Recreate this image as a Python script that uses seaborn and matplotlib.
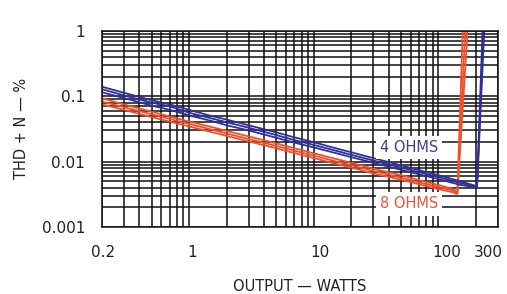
import matplotlib
matplotlib.use("Agg")
import matplotlib.pyplot as plt
import matplotlib.ticker as mticker
import matplotlib.transforms as mtrans
import numpy as np
import pandas as pd
import seaborn as sns

# output power (W) and THD+N (%), three sweeps per load
blue_x = [0.2, 0.3, 0.5, 0.7, 1, 1.5, 2, 3, 5, 7, 10, 15, 20, 30, 50, 70, 100, 150, 204]
blue_a = [0.140, 0.113, 0.087, 0.075, 0.062, 0.050, 0.044, 0.036, 0.028, 0.0235, 0.0198,
          0.0160, 0.0139, 0.0113, 0.0088, 0.0074, 0.0062, 0.0050, 0.0042]
blue_b = [0.128, 0.103, 0.080, 0.070, 0.056, 0.046, 0.040, 0.033, 0.0255, 0.0213, 0.0180,
          0.0147, 0.0127, 0.0104, 0.0081, 0.0069, 0.0058, 0.0047, 0.0041]
blue_c = [0.115, 0.094, 0.072, 0.062, 0.051, 0.042, 0.036, 0.030, 0.0232, 0.0195, 0.0165,
          0.0135, 0.0117, 0.0096, 0.0075, 0.0064, 0.0054, 0.0044, 0.0040]
blue_clip_x = [228, 232, 236]

red_x = [0.2, 0.3, 0.5, 0.7, 1, 1.5, 2, 3, 5, 7, 10, 15, 20, 30, 50, 70, 100, 130, 142]
red_a = [0.093, 0.075, 0.058, 0.049, 0.041, 0.034, 0.0295, 0.0243, 0.0190, 0.0160, 0.0134,
         0.0110, 0.0096, 0.0078, 0.0062, 0.0052, 0.0044, 0.0038, 0.0035]
red_b = [0.083, 0.068, 0.053, 0.045, 0.0377, 0.0311, 0.0269, 0.0222, 0.0174, 0.0147, 0.0123,
         0.0101, 0.0088, 0.0072, 0.0057, 0.0048, 0.0041, 0.0036, 0.0033]
red_c = [0.075, 0.062, 0.048, 0.041, 0.0345, 0.0285, 0.0247, 0.0204, 0.0160, 0.0135, 0.0113,
         0.0093, 0.0081, 0.0066, 0.0053, 0.0045, 0.0038, 0.0034, 0.0032]
red_clip_x = [158, 166, 174]

clip_y = 1.6  # runs off the top of the chart

x_ticks = [0.2, 1, 10, 100, 300]
x_labels = ["0.2", "1", "10", "100", "300"]
y_ticks = [0.001, 0.01, 0.1, 1]
y_labels = ["0.001", "0.01", "0.1", "1"]

BLUE = "#2e2f98"
RED = "#f0502a"

sns.set_style("white")
plt.rcParams["font.family"] = ["DejaVu Sans"]

fig = plt.figure(figsize=(5.07, 2.94), dpi=100)
ax = fig.add_axes([0.201, 0.228, 0.781, 0.667])

for xs, traces, clips, col in [(red_x, [red_a, red_b, red_c], red_clip_x, RED),
                               (blue_x, [blue_a, blue_b, blue_c], blue_clip_x, BLUE)]:
    for ys, cx in zip(traces, clips):
        df = pd.DataFrame({"w": xs + [cx], "thd": ys + [clip_y]})
        sns.lineplot(data=df, x="w", y="thd", ax=ax, color=col, lw=1.3,
                     sort=False, estimator=None)

ax.set_xscale("log")
ax.set_yscale("log")
ax.set_xlim(0.2, 300)
ax.set_ylim(0.001, 1)

ax.xaxis.set_major_locator(mticker.FixedLocator(x_ticks))
ax.xaxis.set_minor_locator(mticker.LogLocator(base=10, subs=np.arange(1, 10), numticks=20))
ax.yaxis.set_major_locator(mticker.FixedLocator(y_ticks))
ax.yaxis.set_minor_locator(mticker.LogLocator(base=10, subs=np.arange(1, 10), numticks=20))
ax.grid(True, which="both", color="#111111", lw=1.1)
ax.set_axisbelow(True)
ax.xaxis.set_major_formatter(mticker.FixedFormatter(x_labels))
ax.yaxis.set_major_formatter(mticker.FixedFormatter(y_labels))
ax.xaxis.set_minor_formatter(mticker.NullFormatter())
ax.yaxis.set_minor_formatter(mticker.NullFormatter())
ax.tick_params(which="both", length=0, labelsize=11, colors="#222222")
ax.tick_params(axis="x", pad=13)
ax.tick_params(axis="y", pad=12)

# nudge x tick labels the way they sit in the printed chart
shifts = [1, 3, 6, 8, -10]
for lab, dx in zip(ax.get_xticklabels(), shifts):
    lab.set_transform(lab.get_transform() + mtrans.ScaledTranslation(dx / 100, 0, fig.dpi_scale_trans))

for s in ax.spines.values():
    s.set_color("#111111")
    s.set_linewidth(1.1)

ax.set_xlabel("OUTPUT — WATTS", fontsize=10.5, color="#222222", labelpad=14)
ax.set_ylabel("THD + N — %", fontsize=10.5, color="#222222", labelpad=9)

box = dict(facecolor="white", edgecolor="none", pad=3)
ax.text(58, 0.0164, "4 OHMS", color="#4b3b8e", fontsize=10.5, ha="center",
        va="center", bbox=box, zorder=5)
ax.text(58, 0.00226, "8 OHMS", color="#e8583a", fontsize=10.5, ha="center",
        va="center", bbox=box, zorder=5)

fig.savefig("out.png", dpi=100)
